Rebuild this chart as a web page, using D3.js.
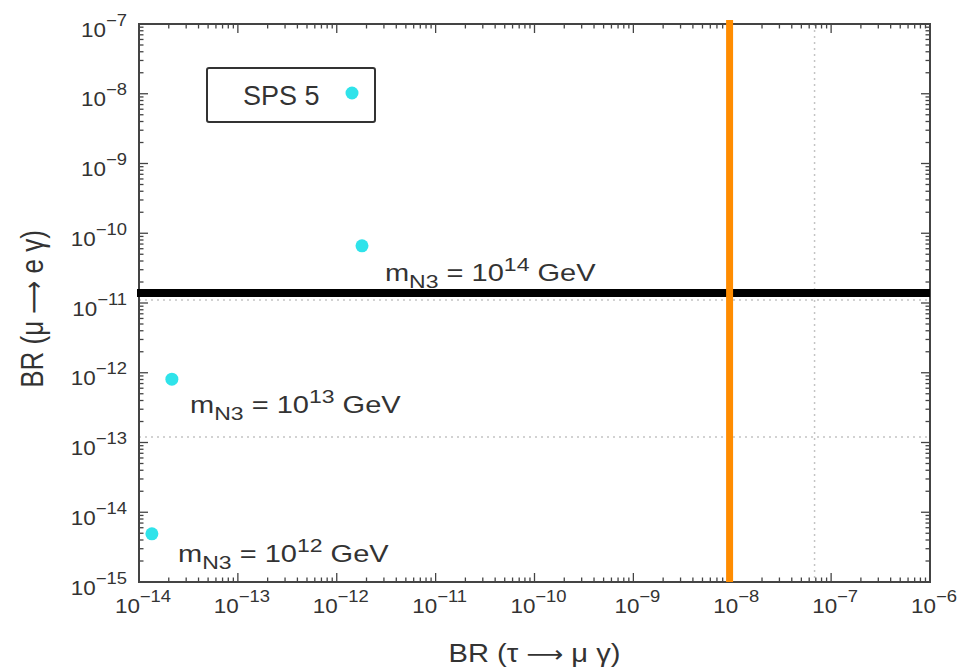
<!DOCTYPE html>
<html>
<head>
<meta charset="utf-8">
<script src="https://cdn.jsdelivr.net/npm/d3@7"></script>
<style>
  html, body { margin: 0; padding: 0; background: #fff; }
  svg { display: block; }
  text { font-family: "Liberation Sans", Arial, Helvetica, sans-serif; fill: #333; }
</style>
</head>
<body>
<svg id="chart" width="976" height="669"></svg>
<script>
// ---- data ----
const xTickExponents = [-14, -13, -12, -11, -10, -9, -8, -7, -6];
const yTickExponents = [-15, -14, -13, -12, -11, -10, -9, -8, -7];
const pointTauMuGamma = [1.8e-12, 2.15e-14, 1.35e-14];
const pointMuEGamma   = [6.6e-11, 8.1e-13, 4.9e-15];
const pointMassExp    = [14, 13, 12];
const labelX          = [3.07e-12, 3.28e-14, 2.48e-14];
const labelY          = [2.07e-11, 2.65e-13, 1.94e-15];
const legendLabel = "SPS 5";
const limitMuEGamma = 1.39e-11;     // thick black line
const limitTauMuGamma = 9.4e-9;     // orange line
const dottedMuEGamma = [1.1e-11, 1.2e-13];
const dottedTauMuGamma = [6.8e-8];

// ---- layout ----
const L = 139, R = 930, T = 24, B = 582;
const svg = d3.select("#chart");
const x = d3.scaleLog().domain([1e-14, 1e-6]).range([L, R]);
const y = d3.scaleLog().domain([1e-15, 1e-7]).range([B, T]);
const SX = 1.15; // horizontal text stretch

// dotted reference lines
svg.selectAll("line.dh").data(dottedMuEGamma).join("line")
  .attr("x1", L).attr("x2", R).attr("y1", d => y(d)).attr("y2", d => y(d))
  .attr("stroke", "#c4c4c4").attr("stroke-width", 1.5).attr("stroke-dasharray", "2,4");
svg.selectAll("line.dv").data(dottedTauMuGamma).join("line")
  .attr("y1", T).attr("y2", B).attr("x1", d => x(d)).attr("x2", d => x(d))
  .attr("stroke", "#c4c4c4").attr("stroke-width", 1.5).attr("stroke-dasharray", "2,4");

// ticks (all four sides, inward)
const minor = [], major = [];
for (let e = -15; e <= -7; e++) { major.push(Math.pow(10, e)); if (e < -7) for (let k = 2; k <= 9; k++) minor.push(k * Math.pow(10, e)); }
const xMajor = [], xMinor = [];
for (let e = -14; e <= -6; e++) { xMajor.push(Math.pow(10, e)); if (e < -6) for (let k = 2; k <= 9; k++) xMinor.push(k * Math.pow(10, e)); }
const tg = svg.append("g").attr("stroke", "#444").attr("stroke-width", 1.3);
function hTicks(vals, len) {
  vals.forEach(v => {
    tg.append("line").attr("x1", L).attr("x2", L + len).attr("y1", y(v)).attr("y2", y(v));
    tg.append("line").attr("x1", R).attr("x2", R - len).attr("y1", y(v)).attr("y2", y(v));
  });
}
function vTicks(vals, len) {
  vals.forEach(v => {
    tg.append("line").attr("y1", B).attr("y2", B - len).attr("x1", x(v)).attr("x2", x(v));
    tg.append("line").attr("y1", T).attr("y2", T + len).attr("x1", x(v)).attr("x2", x(v));
  });
}
hTicks(major, 9); hTicks(minor, 4.5);
vTicks(xMajor, 9); vTicks(xMinor, 4.5);

// frame
svg.append("rect").attr("x", L).attr("y", T).attr("width", R - L).attr("height", B - T)
  .attr("fill", "none").attr("stroke", "#444").attr("stroke-width", 2);

// tick labels
function powLabel(g, e, anchor) {
  const t = g.append("text").attr("text-anchor", anchor).attr("font-size", 19.5);
  t.append("tspan").text("10");
  t.append("tspan").attr("dy", -11).attr("font-size", 16).text("\u2212" + Math.abs(e));
  return t;
}
xTickExponents.forEach(e => {
  const g = svg.append("g").attr("transform", `translate(${x(Math.pow(10, e)) + 4},613) scale(${SX},1)`);
  powLabel(g, e, "middle");
});
yTickExponents.forEach(e => {
  const g = svg.append("g").attr("transform", `translate(127,${y(Math.pow(10, e)) + 12.5}) scale(${SX},1)`);
  powLabel(g, e, "end");
});

// axis titles
function titleText(g, a, b) {
  const t = g.append("text").attr("text-anchor", "middle").attr("font-size", 26);
  t.append("tspan").text(a);
  t.append("tspan").attr("font-family", "DejaVu Sans").attr("font-size", 23).text("\u27F6");
  t.append("tspan").text(b);
}
titleText(svg.append("g").attr("transform", `translate(${(L + R) / 2},662) scale(1.12,1)`),
  "BR (\u03C4 ", " \u03BC \u03B3)");
titleText(svg.append("g").attr("transform", `translate(43,309) scale(1.2,1) rotate(-90)`),
  "BR (\u03BC ", " e \u03B3)");

// limit lines
svg.append("line").attr("x1", L - 2).attr("x2", R).attr("y1", y(limitMuEGamma)).attr("y2", y(limitMuEGamma))
  .attr("stroke", "#000").attr("stroke-width", 8);
svg.append("line").attr("x1", x(limitTauMuGamma)).attr("x2", x(limitTauMuGamma)).attr("y1", T - 4).attr("y2", B)
  .attr("stroke", "#FF8C00").attr("stroke-width", 7);

// points
svg.selectAll("circle.pt").data(pointTauMuGamma).join("circle")
  .attr("cx", d => x(d)).attr("cy", (d, i) => y(pointMuEGamma[i])).attr("r", 6.5)
  .attr("fill", "#2FE3EA");

// point labels
pointMassExp.forEach((m, i) => {
  const g = svg.append("g").attr("transform", `translate(${x(labelX[i])},${y(labelY[i])}) scale(1.21,1)`);
  const t = g.append("text").attr("font-size", 24);
  t.append("tspan").text("m");
  t.append("tspan").attr("dy", 7).attr("font-size", 19).text("N3");
  t.append("tspan").attr("dy", -7).text(" = 10");
  t.append("tspan").attr("dy", -10).attr("font-size", 19).text(m);
  t.append("tspan").attr("dy", 10).text(" GeV");
});

// legend
const lg = svg.append("g");
lg.append("rect").attr("x", 207).attr("y", 68).attr("width", 168).attr("height", 54)
  .attr("fill", "#fff").attr("stroke", "#333").attr("stroke-width", 2).attr("rx", 2);
lg.append("text").attr("x", 243).attr("y", 105).attr("font-size", 27).text(legendLabel);
lg.append("circle").attr("cx", 352).attr("cy", 93).attr("r", 6.5).attr("fill", "#2FE3EA");
</script>
</body>
</html>
